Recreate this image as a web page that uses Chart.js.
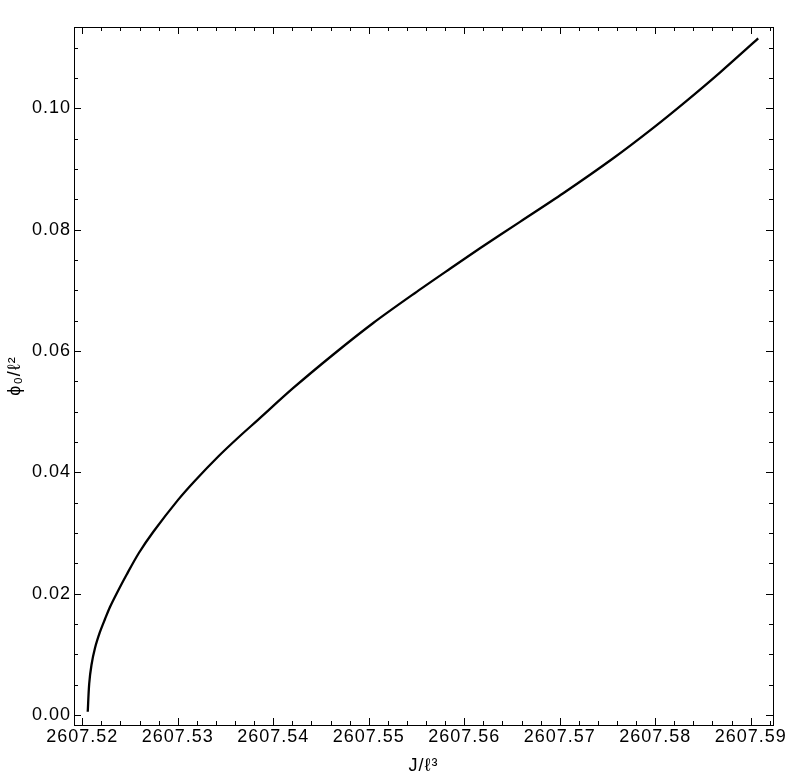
<!DOCTYPE html>
<html>
<head>
<meta charset="utf-8">
<script src="https://cdn.jsdelivr.net/npm/chart.js@4/dist/chart.umd.min.js"></script>
<style>
  html, body { margin: 0; padding: 0; background: #fff; }
  #wrap { width: 800px; height: 781px; position: relative; }
</style>
</head>
<body>
<div id="wrap"><canvas id="c"></canvas></div>
<script>
// J/l^3 values
const J_VALUES = [
  2607.52057, 2607.52072, 2607.52096, 2607.52133, 2607.52185, 2607.52238,
  2607.52290, 2607.52360, 2607.52465, 2607.52594, 2607.52744, 2607.53005,
  2607.53180, 2607.53424, 2607.53634, 2607.53837, 2607.54210, 2607.54629,
  2607.55047, 2607.55502, 2607.55851, 2607.56165, 2607.56584, 2607.57037,
  2607.57561, 2607.57980, 2607.58329, 2607.58678, 2607.59079,
]
// phi_0/l^2 values
const PHI_VALUES = [
  0.00054, 0.00511, 0.00824, 0.01104, 0.01368, 0.01582,
  0.01780, 0.02003, 0.02316, 0.02674, 0.03021, 0.03550,
  0.03862, 0.04261, 0.04574, 0.04861, 0.05390, 0.05942,
  0.06461, 0.06975, 0.07355, 0.07692, 0.08128, 0.08599,
  0.09176, 0.09677, 0.10122, 0.10588, 0.11151,
]

const X_TICKS = [2607.52, 2607.53, 2607.54, 2607.55, 2607.56, 2607.57, 2607.58, 2607.59]
const Y_TICKS = [0, 0.02, 0.04, 0.06, 0.08, 0.10]

const X_MIN = 2607.51913, X_MAX = 2607.59234
const Y_MIN = -0.00165,   Y_MAX = 0.1134
const X_MINOR = 0.002, Y_MINOR = 0.005

const FONT = { family: "'Liberation Sans', Arial, Helvetica, sans-serif", size: 18 }
const TITLE_FONT = { family: "'Liberation Sans', Arial, Helvetica, sans-serif", size: 18 }

// Mathematica-style frame: box with inward ticks on all four sides
const framePlugin = {
  id: 'frame',
  beforeDraw(chart) {
    chart.ctx.letterSpacing = '1px'
  },
  afterDatasetsDraw(chart) {
    const { ctx, chartArea: a, scales: { x, y } } = chart
    ctx.save()
    ctx.strokeStyle = '#000'
    ctx.lineWidth = 1
    ctx.strokeRect(a.left + 0.5, a.top + 0.5, a.right - a.left, a.bottom - a.top)

    ctx.beginPath()
    const xStart = Math.ceil(X_MIN / X_MINOR)
    for (let i = xStart; i * X_MINOR <= X_MAX; i++) {
      const v = i * X_MINOR
      const major = X_TICKS.some(t => Math.abs(t - v) < 1e-6)
      const len = major ? 7 : 4
      const px = Math.round(x.getPixelForValue(v)) + 0.5
      ctx.moveTo(px, a.bottom); ctx.lineTo(px, a.bottom - len)
      ctx.moveTo(px, a.top);    ctx.lineTo(px, a.top + len)
    }
    const yStart = Math.ceil(Y_MIN / Y_MINOR)
    for (let i = yStart; i * Y_MINOR <= Y_MAX; i++) {
      const v = i * Y_MINOR
      const major = Y_TICKS.some(t => Math.abs(t - v) < 1e-6)
      const len = major ? 7 : 4
      const py = Math.round(y.getPixelForValue(v)) + 0.5
      ctx.moveTo(a.left, py);  ctx.lineTo(a.left + len, py)
      ctx.moveTo(a.right, py); ctx.lineTo(a.right - len, py)
    }
    ctx.stroke()
    ctx.restore()
  },
}

new Chart(document.getElementById('c'), {
  type: 'line',
  data: {
    datasets: [{
      data: J_VALUES.map((j, i) => ({ x: j, y: PHI_VALUES[i] })),
      borderColor: '#000',
      borderWidth: 2.3,
      pointRadius: 0,
      tension: 0.3,
      fill: false,
    }],
  },
  options: {
    responsive: true,
    maintainAspectRatio: false,
    animation: false,
    layout: { padding: { top: 27, right: 27, left: 0, bottom: 0 } },
    plugins: { legend: { display: false }, tooltip: { enabled: false } },
    scales: {
      x: {
        type: 'linear',
        min: X_MIN,
        max: X_MAX,
        grid: { display: false, drawTicks: false, tickLength: 0 },
        border: { display: false },
        afterBuildTicks: s => { s.ticks = X_TICKS.map(v => ({ value: v })) },
        afterFit: s => { s.height = 56 },
        ticks: {
          color: '#000', font: FONT, padding: 1,
          autoSkip: false, maxRotation: 0, minRotation: 0,
          callback: v => v.toFixed(2),
        },
        title: {
          display: true, text: 'J/ℓ³', color: '#000', font: TITLE_FONT,
          padding: { top: 0, bottom: 4 },
        },
      },
      y: {
        type: 'linear',
        min: Y_MIN,
        max: Y_MAX,
        grid: { display: false, drawTicks: false, tickLength: 0 },
        border: { display: false },
        afterBuildTicks: s => { s.ticks = Y_TICKS.map(v => ({ value: v })) },
        afterFit: s => { s.width = 74 },
        ticks: {
          color: '#000', font: FONT, padding: 3,
          callback: v => v.toFixed(2),
        },
        title: {
          display: true, text: 'ϕ₀/ℓ²', color: '#000', font: TITLE_FONT,
          padding: { top: 4, bottom: 0 },
        },
      },
    },
  },
  plugins: [framePlugin],
})
</script>
</body>
</html>
